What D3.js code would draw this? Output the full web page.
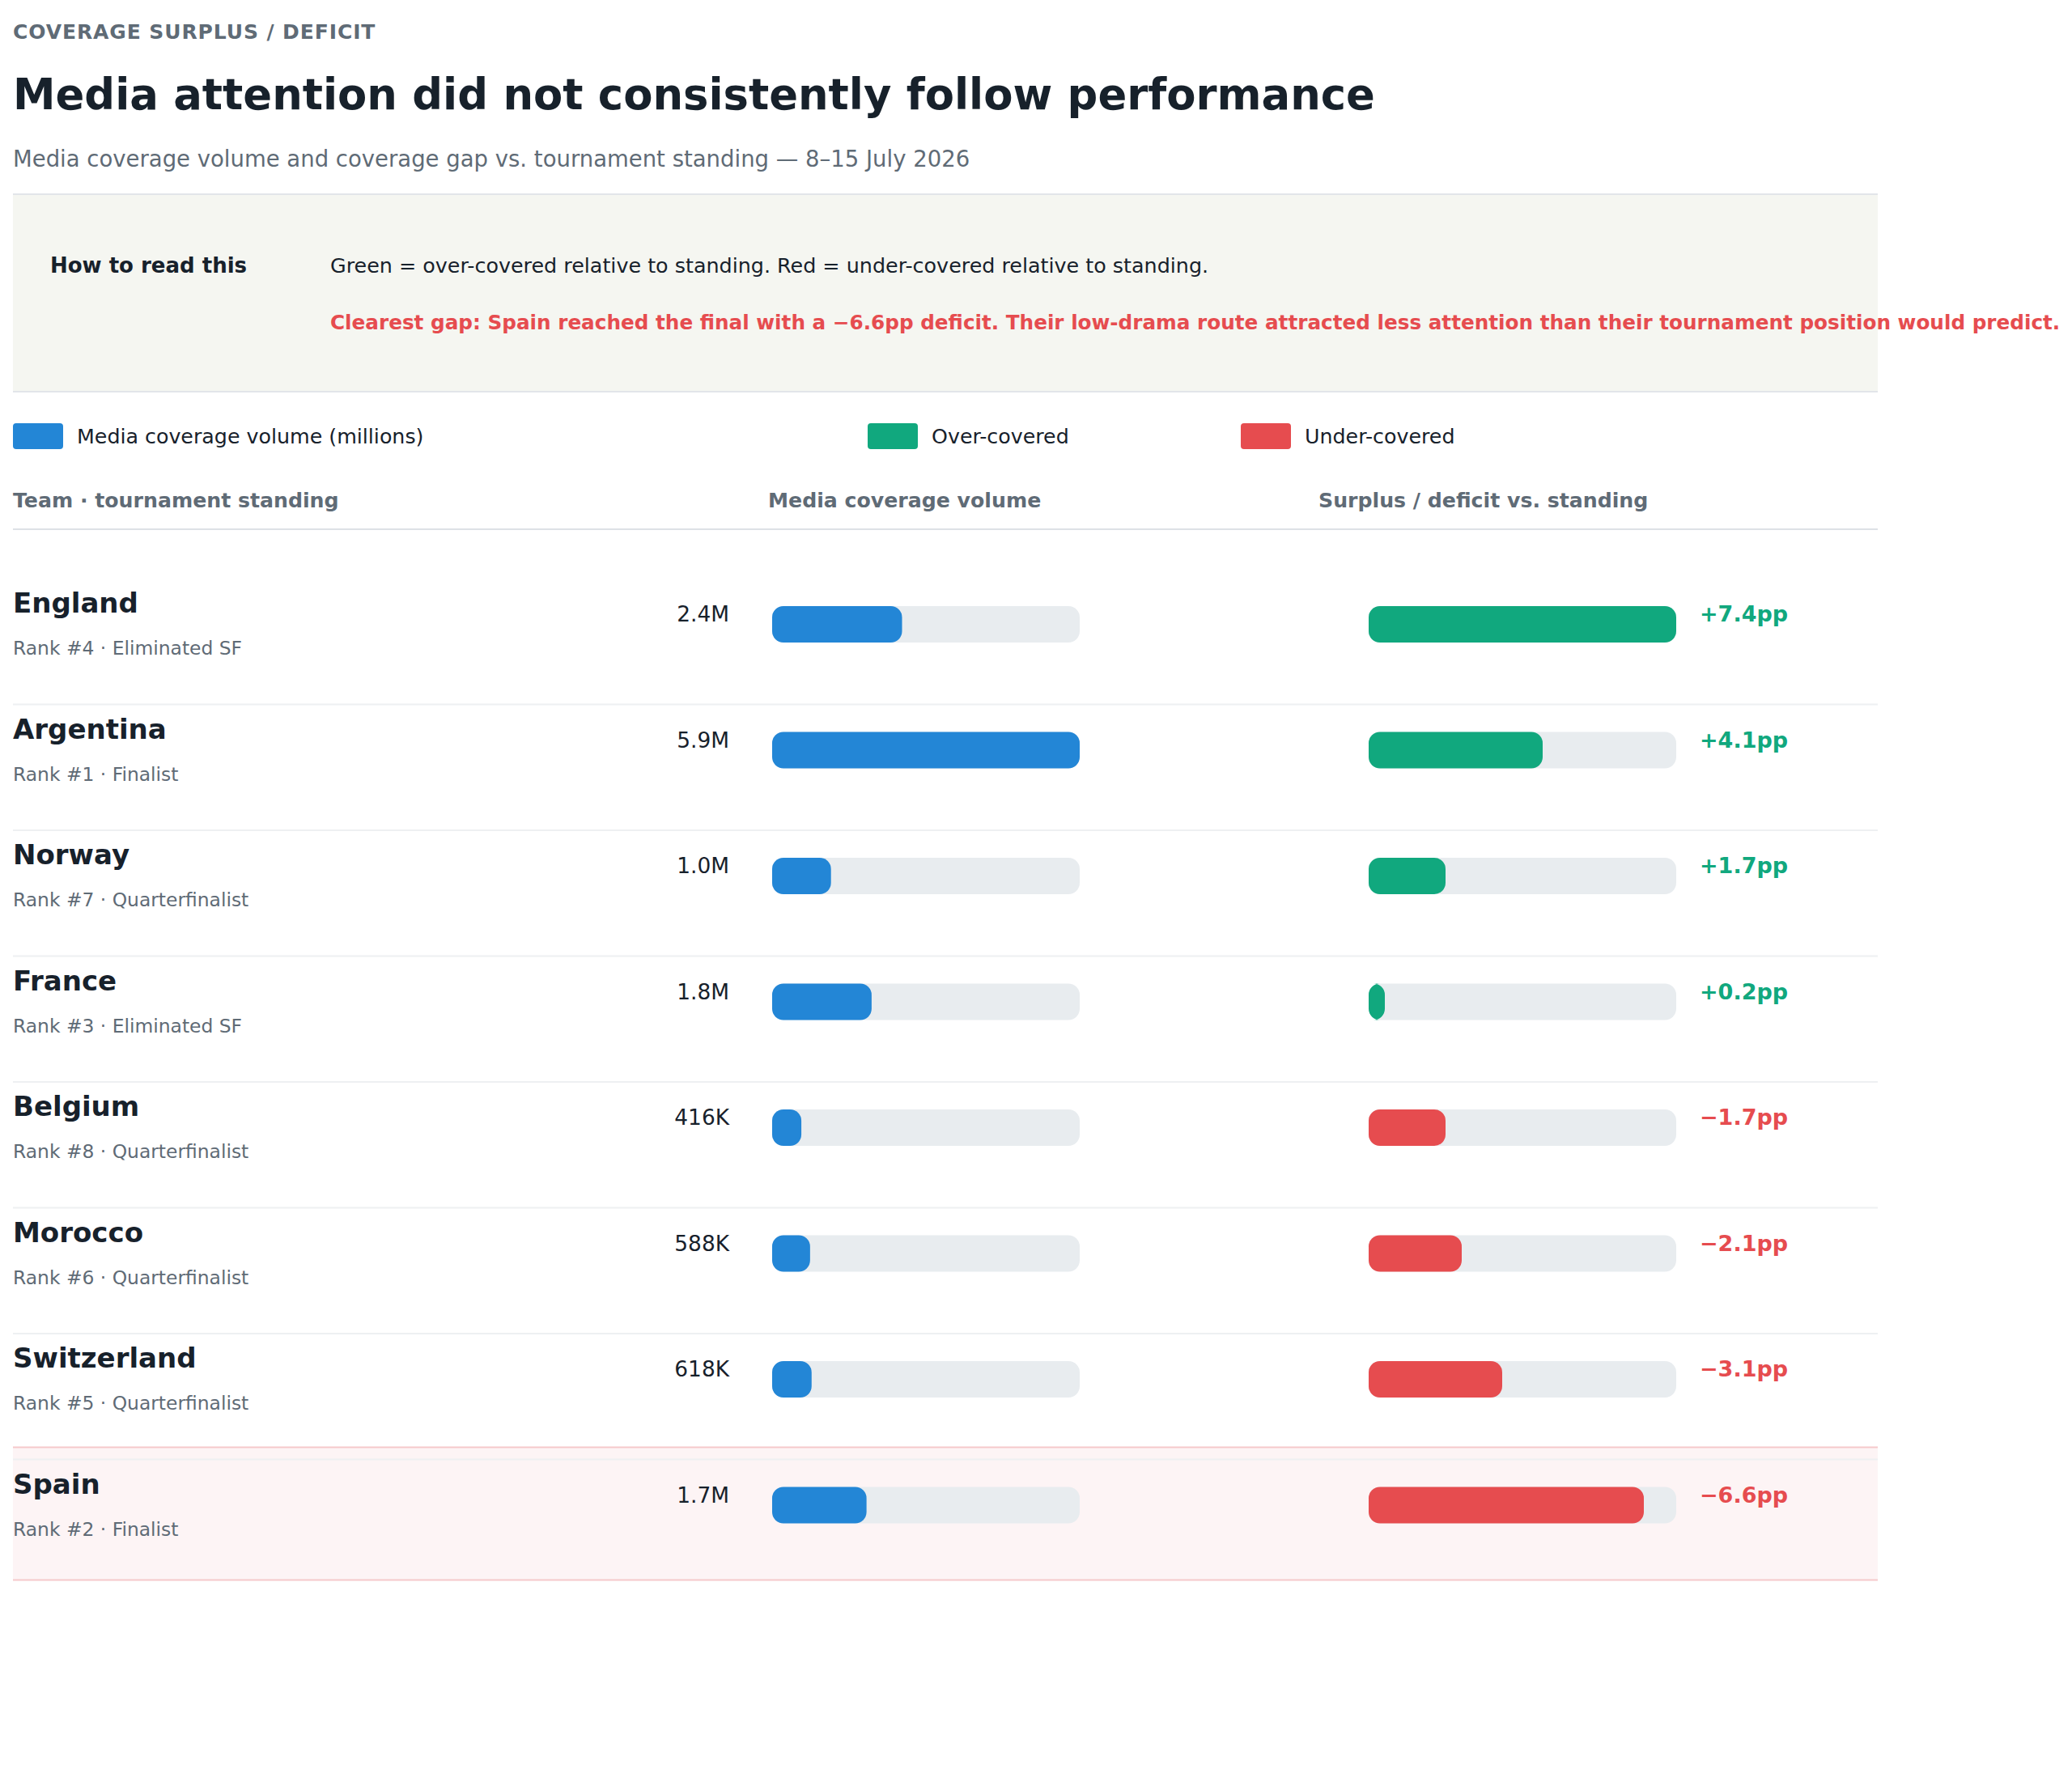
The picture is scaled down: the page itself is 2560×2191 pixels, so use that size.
<!DOCTYPE html>
<html lang="en">
<head>
<meta charset="UTF-8">
<title>Coverage surplus / deficit</title>
<script src="https://d3js.org/d3.v7.min.js"></script>
<style>
    body { margin: 0; background: #fff; }
    svg { display: block; font-family: "DejaVu Sans", sans-serif; }
    .dark { fill: #17212b; }
    .muted { fill: #5f6b76; }
</style>
</head>
<body>
<div id="chart"></div>
<script>
// data
var teams = ["England", "Argentina", "Norway", "France", "Belgium", "Morocco", "Switzerland", "Spain"];
var ranks = [4, 1, 7, 3, 8, 6, 5, 2];
var stages = ["Eliminated SF", "Finalist", "Quarterfinalist", "Eliminated SF",
              "Quarterfinalist", "Quarterfinalist", "Quarterfinalist", "Finalist"];
var coverage = [2.4, 5.9, 1.0, 1.8, 0.416, 0.588, 0.618, 1.7];   // millions
var gap = [7.4, 4.1, 1.7, 0.2, -1.7, -2.1, -3.1, -6.6];          // pp vs. standing
var legendLabels = ["Media coverage volume (millions)", "Over-covered", "Under-covered"];
var columnLabels = ["Team · tournament standing", "Media coverage volume", "Surplus / deficit vs. standing"];

var W = 2560, H = 2191;
var left = 16, right = 2320;
var blue = "#2386d6", green = "#11a87e", red = "#e64c4f", track = "#e8ecef";

var svg = d3.select("#chart").append("svg")
    .attr("width", W)
    .attr("height", H);

// heading
svg.append("text").attr("class", "muted")
    .attr("x", left).attr("y", 48)
    .style("font-size", "25px").style("font-weight", "bold").style("letter-spacing", "0.9px")
    .text("COVERAGE SURPLUS / DEFICIT");
svg.append("text").attr("class", "dark")
    .attr("x", left).attr("y", 135)
    .style("font-size", "52.8px").style("font-weight", "bold")
    .text("Media attention did not consistently follow performance");
svg.append("text").attr("class", "muted")
    .attr("x", left).attr("y", 206)
    .style("font-size", "27.5px")
    .text("Media coverage volume and coverage gap vs. tournament standing — 8–15 July 2026");

// how to read box
svg.append("rect").attr("x", left).attr("y", 240).attr("width", right - left).attr("height", 244)
    .attr("fill", "#f5f6f1");
[240, 484].forEach(function (y) {
    svg.append("line").attr("x1", left).attr("x2", right).attr("y1", y).attr("y2", y)
        .attr("stroke", "#e2e5e9").attr("stroke-width", 2);
});
svg.append("text").attr("class", "dark")
    .attr("x", 62).attr("y", 337)
    .style("font-size", "26px").style("font-weight", "bold")
    .text("How to read this");
svg.append("text").attr("class", "dark")
    .attr("x", 408).attr("y", 337)
    .style("font-size", "25.4px")
    .text("Green = over-covered relative to standing. Red = under-covered relative to standing.");

var worst = d3.minIndex(gap);
svg.append("text")
    .attr("x", 408).attr("y", 407)
    .attr("fill", red)
    .style("font-size", "24.7px").style("font-weight", "bold")
    .text("Clearest gap: " + teams[worst] + " reached the final with a \u2212" + Math.abs(gap[worst]).toFixed(1) +
          "pp deficit. Their low-drama route attracted less attention than their tournament position would predict.");

// legend
var legendX = [16, 1072, 1533];
var legendColors = [blue, green, red];
var legend = svg.selectAll(".legend")
    .data(legendLabels)
    .enter().append("g")
    .attr("class", "legend")
    .attr("transform", function (d, i) { return "translate(" + legendX[i] + ",523)"; });
legend.append("rect")
    .attr("width", 62).attr("height", 32).attr("rx", 4)
    .attr("fill", function (d, i) { return legendColors[i]; });
legend.append("text").attr("class", "dark")
    .attr("x", 79).attr("y", 25)
    .style("font-size", "25.3px")
    .text(function (d) { return d; });

// column headers
var colX = [16, 949, 1629];
svg.selectAll(".col-label")
    .data(columnLabels)
    .enter().append("text")
    .attr("class", "col-label muted")
    .attr("x", function (d, i) { return colX[i]; })
    .attr("y", 627)
    .style("font-size", "25.2px").style("font-weight", "bold")
    .text(function (d) { return d; });
svg.append("line").attr("x1", left).attr("x2", right).attr("y1", 654).attr("y2", 654)
    .attr("stroke", "#dde1e6").attr("stroke-width", 2);

// rows
var y = d3.scaleBand().domain(teams).range([716, 716 + teams.length * 155.5]);
var trackW = 380, barH = 45, covX = 954, gapX = 1691;
var xCov = d3.scaleLinear().domain([0, d3.max(coverage)]).range([10, trackW]);
var xGap = d3.scaleLinear().domain([0, d3.max(gap, Math.abs)]).range([10, trackW]);

function barPath(x, yy, w, h, r) {
    return "M" + (x + r) + "," + yy +
        "H" + (x + w - r) +
        "A" + r + "," + r + " 0 0 1 " + (x + w) + "," + (yy + r) +
        "V" + (yy + h - r) +
        "A" + r + "," + r + " 0 0 1 " + (x + w - r) + "," + (yy + h) +
        "H" + (x + r) +
        "A" + r + "," + r + " 0 0 1 " + x + "," + (yy + h - r) +
        "V" + (yy + r) +
        "A" + r + "," + r + " 0 0 1 " + (x + r) + "," + yy + "Z";
}

function fmtCov(v) {
    return v >= 1 ? v.toFixed(1) + "M" : Math.round(v * 1000) + "K";
}
function fmtGap(g) {
    return (g >= 0 ? "+" : "\u2212") + Math.abs(g).toFixed(1) + "pp";
}

// highlight row for the clearest gap
var hy = y(teams[worst]);
svg.append("rect").attr("x", left).attr("y", hy - 16).attr("width", right - left).attr("height", 164)
    .attr("fill", "#fdf4f5");
[hy - 16, hy + 148].forEach(function (yy) {
    svg.append("line").attr("x1", left).attr("x2", right).attr("y1", yy).attr("y2", yy)
        .attr("stroke", "#f5c9cb").attr("stroke-width", 2);
});

var rows = svg.selectAll(".row")
    .data(teams)
    .enter().append("g")
    .attr("class", "row")
    .attr("transform", function (d) { return "translate(0," + y(d) + ")"; });

rows.filter(function (d, i) { return i < teams.length - 1; })
    .append("line")
    .attr("x1", left).attr("x2", right)
    .attr("y1", y.bandwidth() - 1).attr("y2", y.bandwidth() - 1)
    .attr("stroke", "#eef0f2").attr("stroke-width", 2);

rows.append("text").attr("class", "dark")
    .attr("x", left).attr("y", 41)
    .style("font-size", "34px").style("font-weight", "bold")
    .text(function (d) { return d; });
rows.append("text").attr("class", "muted")
    .attr("x", left).attr("y", 93)
    .style("font-size", "23.4px")
    .text(function (d, i) { return "Rank #" + ranks[i] + " · " + stages[i]; });

// coverage bars
rows.append("text").attr("class", "dark")
    .attr("x", 901).attr("y", 52)
    .attr("text-anchor", "end")
    .style("font-size", "26.4px")
    .text(function (d, i) { return fmtCov(coverage[i]); });
rows.append("path")
    .attr("d", barPath(covX, 33, trackW, barH, 14))
    .attr("fill", track);
rows.append("path")
    .attr("d", function (d, i) { return barPath(covX, 33, xCov(coverage[i]), barH, 14); })
    .attr("fill", blue);

// surplus / deficit bars
rows.append("path")
    .attr("d", barPath(gapX, 33, trackW, barH, 14))
    .attr("fill", track);
rows.append("path")
    .attr("d", function (d, i) { return barPath(gapX, 33, xGap(Math.abs(gap[i])), barH, 14); })
    .attr("fill", function (d, i) { return gap[i] >= 0 ? green : red; });
rows.append("text")
    .attr("x", 2100).attr("y", 52)
    .attr("fill", function (d, i) { return gap[i] >= 0 ? green : red; })
    .style("font-size", "27px").style("font-weight", "bold")
    .text(function (d, i) { return fmtGap(gap[i]); });
</script>
</body>
</html>
